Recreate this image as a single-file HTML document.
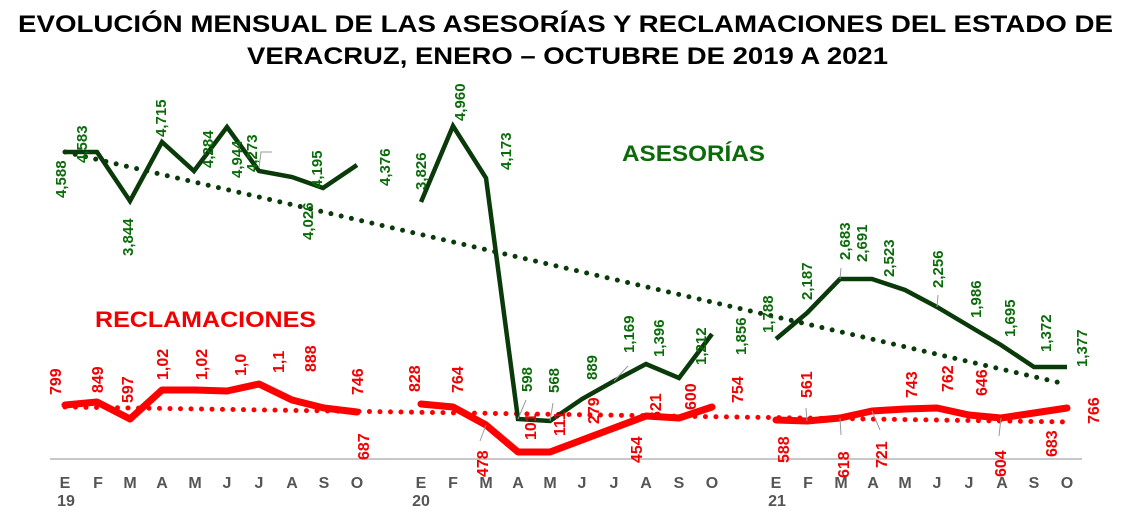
<!DOCTYPE html>
<html><head><meta charset="utf-8"><style>
html,body{margin:0;padding:0;background:#fff;}
svg{display:block;font-family:"Liberation Sans",sans-serif;font-weight:bold;}
.g{fill:#0b6b0b;font-size:15px;}
.r{fill:#f00000;font-size:16px;}
.m{fill:#555;font-size:16px;}
</style></head><body>
<svg width="1123" height="516" viewBox="0 0 1123 516" xmlns="http://www.w3.org/2000/svg">
<text x="18" y="32" font-size="24" textLength="1095" lengthAdjust="spacingAndGlyphs">EVOLUCIÓN MENSUAL DE LAS ASESORÍAS Y RECLAMACIONES DEL ESTADO DE</text>
<text x="247" y="64" font-size="24" textLength="641" lengthAdjust="spacingAndGlyphs">VERACRUZ, ENERO – OCTUBRE DE 2019 A 2021</text>
<text x="622" y="161" font-size="22" fill="#0b6b0b" textLength="143" lengthAdjust="spacingAndGlyphs">ASESORÍAS</text>
<text x="95" y="327" font-size="22" fill="#f00000" textLength="221" lengthAdjust="spacingAndGlyphs">RECLAMACIONES</text>
<line x1="50" y1="459" x2="1082" y2="459" stroke="#c8c8c8" stroke-width="2"/>
<line x1="65" y1="152" x2="1061" y2="383" stroke="#0a3a0a" stroke-width="5" stroke-dasharray="0 10.5" stroke-linecap="round"/>
<line x1="65" y1="407" x2="1067" y2="422" stroke="#f00" stroke-width="5" stroke-dasharray="0 10.5" stroke-linecap="round"/>
<g fill="none" stroke="#0a3a0a" stroke-width="4.5" stroke-linejoin="miter">
<polyline points="65,152 97,152 130,201 162,142 194,171 227,127 259,171 292,177 323,188 357,165"/>
<polyline points="421,202 453,126 486,178 518,419 550,421 582,399 614,381 646,364 679,378 712,334"/>
<polyline points="776,339 807,313 840,279 872,279 905,290 937,307 969,326 1001,345 1034,367 1067,367"/>
</g>
<g fill="none" stroke="#f00" stroke-width="7" stroke-linejoin="round" stroke-linecap="round">
<polyline points="65,405 97,402 130,419 162,390 195,390 227,391 259,384 292,400 324,408 357,412"/>
<polyline points="421,404 453,407 486,425 518,452 550,452 582,440 614,428 646,416 679,418 712,407"/>
<polyline points="776,420 807,421 840,418 872,411 905,409 937,408 969,415 1001,418 1034,413 1067,408"/>
</g>
<g stroke="#999" stroke-width="1" fill="none">
<polyline points="272,152 261,152 259,168"/>
<line x1="486" y1="425" x2="480" y2="441"/><line x1="518" y1="419" x2="526" y2="400"/>
<line x1="550" y1="421" x2="553" y2="403"/><line x1="614" y1="381" x2="628" y2="366"/>
<line x1="840" y1="279" x2="841" y2="268"/><line x1="807" y1="421" x2="806" y2="408"/>
<line x1="840" y1="418" x2="841" y2="435"/><line x1="872" y1="411" x2="880" y2="430"/>
<line x1="1001" y1="418" x2="999" y2="436"/><line x1="937" y1="307" x2="938" y2="295"/>
</g>
<g class="g">
<text transform="translate(66,198) rotate(-90)">4,588</text>
<text transform="translate(87,163) rotate(-90)">4,583</text>
<text transform="translate(133,256) rotate(-90)">3,844</text>
<text transform="translate(166,137) rotate(-90)">4,715</text>
<text transform="translate(213,168) rotate(-90)">4,284</text>
<text transform="translate(242,178) rotate(-90)">4,944</text>
<text transform="translate(257,172) rotate(-90)">4,273</text>
<text transform="translate(313,240) rotate(-90)">4,026</text>
<text transform="translate(322,188) rotate(-90)">4,195</text>
<text transform="translate(390,186) rotate(-90)">4,376</text>
<text transform="translate(426,190) rotate(-90)">3,826</text>
<text transform="translate(465,121) rotate(-90)">4,960</text>
<text transform="translate(511,170) rotate(-90)">4,173</text>
<text transform="translate(532,392) rotate(-90)">598</text>
<text transform="translate(559,393) rotate(-90)">568</text>
<text transform="translate(597,380) rotate(-90)">889</text>
<text transform="translate(634,353) rotate(-90)">1,169</text>
<text transform="translate(664,357) rotate(-90)">1,396</text>
<text transform="translate(706,365) rotate(-90)">1,212</text>
<text transform="translate(746,355) rotate(-90)">1,856</text>
<text transform="translate(773,333) rotate(-90)">1,788</text>
<text transform="translate(812,300) rotate(-90)">2,187</text>
<text transform="translate(850,260) rotate(-90)">2,683</text>
<text transform="translate(867,262) rotate(-90)">2,691</text>
<text transform="translate(894,277) rotate(-90)">2,523</text>
<text transform="translate(943,288) rotate(-90)">2,256</text>
<text transform="translate(981,318) rotate(-90)">1,986</text>
<text transform="translate(1015,337) rotate(-90)">1,695</text>
<text transform="translate(1051,352) rotate(-90)">1,372</text>
<text transform="translate(1087,367) rotate(-90)">1,377</text>
</g>
<g class="r">
<text transform="translate(61,395) rotate(-90)">799</text>
<text transform="translate(103,393) rotate(-90)">849</text>
<text transform="translate(133,403) rotate(-90)">597</text>
<text transform="translate(168,380) rotate(-90)">1,02</text>
<text transform="translate(207,380) rotate(-90)">1,02</text>
<text transform="translate(246,376) rotate(-90)">1,0</text>
<text transform="translate(284,373) rotate(-90)">1,1</text>
<text transform="translate(316,372) rotate(-90)">888</text>
<text transform="translate(363,395) rotate(-90)">746</text>
<text transform="translate(369,460) rotate(-90)">687</text>
<text transform="translate(420,392) rotate(-90)">828</text>
<text transform="translate(463,393) rotate(-90)">764</text>
<text transform="translate(488,477) rotate(-90)">478</text>
<text transform="translate(536,440) rotate(-90)">101</text>
<text transform="translate(565,436) rotate(-90)">111</text>
<text transform="translate(599,424) rotate(-90)">279</text>
<text transform="translate(642,463) rotate(-90)">454</text>
<text transform="translate(661,420) rotate(-90)">621</text>
<text transform="translate(696,410) rotate(-90)">600</text>
<text transform="translate(743,403) rotate(-90)">754</text>
<text transform="translate(789,463) rotate(-90)">588</text>
<text transform="translate(812,398) rotate(-90)">561</text>
<text transform="translate(849,478) rotate(-90)">618</text>
<text transform="translate(887,468) rotate(-90)">721</text>
<text transform="translate(917,398) rotate(-90)">743</text>
<text transform="translate(953,392) rotate(-90)">762</text>
<text transform="translate(987,396) rotate(-90)">646</text>
<text transform="translate(1006,477) rotate(-90)">604</text>
<text transform="translate(1057,457) rotate(-90)">683</text>
<text transform="translate(1099,424) rotate(-90)">766</text>
</g>
<g class="m" text-anchor="middle">
<text x="65" y="488">E</text><text x="98" y="488">F</text><text x="130" y="488">M</text><text x="162" y="488">A</text><text x="195" y="488">M</text><text x="227" y="488">J</text><text x="259" y="488">J</text><text x="292" y="488">A</text><text x="324" y="488">S</text><text x="357" y="488">O</text>
<text x="421" y="488">E</text><text x="453" y="488">F</text><text x="486" y="488">M</text><text x="518" y="488">A</text><text x="550" y="488">M</text><text x="582" y="488">J</text><text x="614" y="488">J</text><text x="646" y="488">A</text><text x="679" y="488">S</text><text x="712" y="488">O</text>
<text x="776" y="488">E</text><text x="808" y="488">F</text><text x="841" y="488">M</text><text x="873" y="488">A</text><text x="905" y="488">M</text><text x="937" y="488">J</text><text x="969" y="488">J</text><text x="1002" y="488">A</text><text x="1034" y="488">S</text><text x="1067" y="488">O</text>
<text x="66" y="506">19</text><text x="421" y="506">20</text><text x="777" y="506">21</text>
</g>
</svg>
</body></html>
